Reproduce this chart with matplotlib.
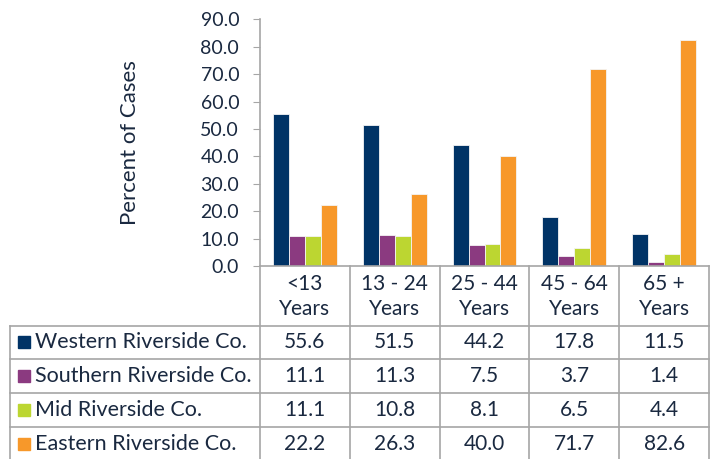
import matplotlib
matplotlib.use("Agg")
import matplotlib.pyplot as plt
from matplotlib.patches import Rectangle

# =========================================================
# DATA
# =========================================================
age_groups = ["<13\nYears", "13 - 24\nYears", "25 - 44\nYears", "45 - 64\nYears", "65 +\nYears"]
regions = ["Western Riverside Co.", "Southern Riverside Co.", "Mid Riverside Co.", "Eastern Riverside Co."]
western = [55.6, 51.5, 44.2, 17.8, 11.5]
southern = [11.1, 11.3, 7.5, 3.7, 1.4]
mid = [11.1, 10.8, 8.1, 6.5, 4.4]
eastern = [22.2, 26.3, 40.0, 71.7, 82.6]
y_ticks = [0, 10, 20, 30, 40, 50, 60, 70, 80, 90]

series = [western, southern, mid, eastern]
colors = ["#003366", "#8b3a80", "#bcd631", "#f7982a"]
text_color = "#1a2940"
line_color = "#a6a6a6"

plt.rcParams["font.family"] = ["Lato", "DejaVu Sans"]

W, H = 713, 459
fig = plt.figure(figsize=(W / 100, H / 100), dpi=100)

# plot area in pixel coords
ax_left, ax_right = 260, 709
ax_top, ax_bottom = 19.3, 266
ax = fig.add_axes([ax_left / W, (H - ax_bottom) / H,
                   (ax_right - ax_left) / W, (ax_bottom - ax_top) / H])

n = len(age_groups)
bar_w = 0.178
for i, vals in enumerate(series):
    xs = [k + (i - 1.5) * bar_w for k in range(n)]
    ax.bar(xs, vals, width=bar_w, color=colors[i], edgecolor="#f4f4f4",
           linewidth=0.6, zorder=2)

ax.set_xlim(-0.5, n - 0.5)
ax.set_ylim(0, 90)
ax.set_yticks(y_ticks)
ax.set_yticklabels([f"{v:.1f}" for v in y_ticks], fontsize=14, color=text_color)
ax.set_xticks([])
ax.tick_params(axis="y", direction="out", length=5, color=line_color, pad=10)
for s in ["top", "right"]:
    ax.spines[s].set_visible(False)
for s in ["left", "bottom"]:
    ax.spines[s].set_color(line_color)
    ax.spines[s].set_linewidth(1.2)
ax.set_ylabel("Percent of Cases", fontsize=16, color=text_color)
ax.yaxis.set_label_coords((140 - ax_left) / (ax_right - ax_left), 0.5)

# =========================================================
# DATA TABLE (drawn under the axes)
# =========================================================
ov = fig.add_axes([0, 0, 1, 1])
ov.set_xlim(0, W)
ov.set_ylim(H, 0)
ov.axis("off")

col_w = (ax_right - ax_left) / n
col_edges = [ax_left + k * col_w for k in range(n + 1)]
header_bottom = 325.5
row_edges = [header_bottom, 359, 393, 427, 460]
label_left = 10

lw = 1.2
# vertical lines for data columns
for x in col_edges:
    ov.plot([x, x], [ax_bottom, row_edges[-1]], color=line_color, lw=lw)
ov.plot([label_left, label_left], [header_bottom, row_edges[-1]], color=line_color, lw=lw)
# horizontal lines
for y in row_edges[:-1]:
    ov.plot([label_left, ax_right], [y, y], color=line_color, lw=lw)

# header
for k, lab in enumerate(age_groups):
    cx = (col_edges[k] + col_edges[k + 1]) / 2
    ov.text(cx, (ax_bottom + header_bottom) / 2 + 1, lab, ha="center", va="center",
            fontsize=15, color=text_color, linespacing=1.3)

# rows
for r, name in enumerate(regions):
    cy = (row_edges[r] + row_edges[r + 1]) / 2
    ov.add_patch(Rectangle((18, cy - 6), 12, 12, color=colors[r]))
    ov.text(35, cy, name, ha="left", va="center", fontsize=15.5, color=text_color)
    for k in range(n):
        cx = (col_edges[k] + col_edges[k + 1]) / 2
        ov.text(cx, cy, f"{series[r][k]:.1f}", ha="center", va="center",
                fontsize=15, color=text_color)

fig.savefig("out.png", dpi=100)
